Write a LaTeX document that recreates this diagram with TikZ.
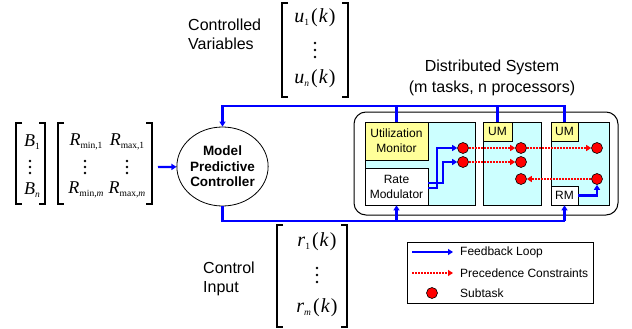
\documentclass[tikz,border=0pt]{standalone}
\usepackage{fontspec}
\setmainfont{Liberation Sans}
\newfontfamily\mfont{Liberation Serif}
\usetikzlibrary{arrows.meta, shapes.geometric}

\definecolor{proccyan}{RGB}{204,255,255}
\definecolor{monyellow}{RGB}{255,255,153}

% brackets of a matrix: left x, top y, right x, bottom y
\newcommand{\mbrack}[4]{%
  \draw[brk] (#1+6,#2) -- (#1,#2) -- (#1,#4) -- (#1+6,#4);
  \draw[brk] (#3-6,#2) -- (#3,#2) -- (#3,#4) -- (#3-6,#4);}
% lowered small index
\newcommand{\sbs}[1]{\raisebox{-3pt}{\fontsize{9.5}{10}\selectfont #1}}

\tikzset{
  lbl/.style={font=\fontsize{16}{19}\selectfont, inner sep=0pt},
  small/.style={font=\fontsize{12}{15}\selectfont, inner sep=0pt},
  mth/.style={font=\mfont\fontsize{18}{20}\selectfont, inner sep=0pt},
  bigmth/.style={font=\mfont\fontsize{20}{22}\selectfont, inner sep=0pt},
  brk/.style={draw=black, line width=1.3pt},
  fb/.style={draw=blue, line width=2.2pt},
  fbarrow/.style={fb, -{Triangle[length=5pt,width=6pt]}},
  prec/.style={draw=red, line width=1.8pt, dash pattern=on 2pt off 1pt,
    -{Triangle[length=5pt,width=6pt]}},
  subtask/.style={circle, draw=black, fill=red, minimum size=11pt,
    inner sep=0pt, line width=0.6pt},
  proc/.style={draw=black, fill=proccyan, minimum height=83pt,
    line width=0.7pt, inner sep=0pt},
  monbox/.style={draw=black, fill=monyellow, line width=0.7pt,
    inner sep=0pt, font=\fontsize{12}{15}\selectfont, align=center},
  modbox/.style={draw=black, fill=white, line width=0.7pt,
    inner sep=0pt, font=\fontsize{12}{15}\selectfont, align=center}
}

\begin{document}
\begin{tikzpicture}[x=1pt, y=-1pt]
  \useasboundingbox (0,0) rectangle (632,329);

  % titles
  \node[lbl, anchor=west, align=left] (ctrlvar) at (188,34) {Controlled\\Variables};
  \node[lbl, anchor=west, align=left] (ctrlin) at (203,279) {Control\\Input};
  \node[lbl, align=center, font=\fontsize{16}{21}\selectfont] (dist) at (492,78)
    {Distributed System\\(m tasks, n processors)};

  % controlled variables
  \mbrack{282}{3}{348}{97}
  \node[bigmth] (out1) at (315,18) {\textit{u}\sbs{1}\kern2pt(\kern1pt\textit{k}\kern1pt)};
  \node[bigmth] (outn) at (315,79) {\textit{u}\sbs{\textit{n}}\kern2pt(\kern1pt\textit{k}\kern1pt)};

  % control input
  \mbrack{277}{225}{347}{327}
  \node[bigmth] (in1) at (317,242) {\textit{r}\sbs{1}\kern2pt(\kern1pt\textit{k}\kern1pt)};
  \node[bigmth] (inm) at (317,308) {\textit{r}\sbs{\textit{m}}\kern2pt(\kern1pt\textit{k}\kern1pt)};

  % set points and rate bounds
  \mbrack{16}{123}{45}{204}
  \node[mth] (b1) at (32,142) {\textit{B}\sbs{1}};
  \node[mth] (bn) at (32,190) {\textit{B}\sbs{\textit{n}}};
  \mbrack{58}{123}{152}{204}
  \node[mth] (rmin1) at (86,142) {\textit{R}\sbs{min,1}};
  \node[mth] (rmax1) at (127,142) {\textit{R}\sbs{max,1}};
  \node[mth] (rminm) at (86,190) {\textit{R}\sbs{min,\textit{m}}};
  \node[mth] (rmaxm) at (127,190) {\textit{R}\sbs{max,\textit{m}}};

  % vertical dots
  \foreach \x/\y in {315/50, 317/275}
    \foreach \d in {-7,0,7}
      \fill (\x,\y+\d) circle[radius=1.4pt];
  \foreach \x/\y in {30/167, 85/167, 127/167}
    \foreach \d in {-6,0,6}
      \fill (\x,\y+\d) circle[radius=1.3pt];

  % controller
  \node[ellipse, draw=black, line width=0.8pt, minimum width=89pt,
    minimum height=79pt, inner sep=0pt, align=center,
    font=\bfseries\fontsize{13.5}{15.5}\selectfont] (mpc) at (222.5,166.5)
    {Model\\Predictive\\Controller};

  % distributed system
  \node[draw=black, line width=1pt, rounded corners=12pt, minimum width=264pt,
    minimum height=103pt] (sys) at (486,163.5) {};
  \node[proc, minimum width=110pt] (p1) at (420,163.5) {};
  \node[proc, minimum width=58pt] (p2) at (512,163.5) {};
  \node[proc, minimum width=58pt] (p3) at (580,163.5) {};
  \node[monbox, minimum width=63pt, minimum height=38pt] (mon1) at (396.5,141)
    {Utilization\\Monitor};
  \node[modbox, minimum width=63pt, minimum height=37pt] (mod1) at (396.5,186.5)
    {Rate\\Modulator};
  \node[monbox, minimum width=29pt, minimum height=19pt] (mon2) at (497.5,131.5) {UM};
  \node[monbox, minimum width=27pt, minimum height=19pt] (mon3) at (564.5,131.5) {UM};
  \node[modbox, minimum width=27pt, minimum height=19pt] (mod3) at (564.5,195.5) {RM};

  % subtasks
  \node[subtask] (s11) at (463,148) {};
  \node[subtask] (s12) at (463,162) {};
  \node[subtask] (s21) at (521,148) {};
  \node[subtask] (s22) at (521,162) {};
  \node[subtask] (s23) at (521,179) {};
  \node[subtask] (s31) at (597,148) {};
  \node[subtask] (s33) at (597,179) {};

  % precedence constraints
  \draw[prec] (s11) -- (s21);
  \draw[prec] (s21) -- (s31);
  \draw[prec] (s12) -- (s22);
  \draw[prec] (s33) -- (s23);

  % rate modulators to subtasks
  \coordinate (j1) at (437,0);
  \coordinate (j2) at (443,0);
  \draw[fbarrow] (mod1.east |- 0,188) -| (j1 |- s11) -- (s11);
  \draw[fbarrow] (mod1.east |- 0,183) -| (j2 |- s12) -- (s12);
  \draw[fbarrow] (mod3.east) -| (s33);

  % feedback loop
  \coordinate (top) at (0,106);
  \coordinate (bot) at (0,221);
  \coordinate (rin) at (158,167);
  \draw[fbarrow] (rin) -- (mpc);
  \draw[fbarrow] (mon3.north) -- (mon3.north |- top) -| (mpc.north);
  \draw[fb] (mon1.north) -- (mon1.north |- top);
  \draw[fb] (mon2.north) -- (mon2.north |- top);
  \draw[fb] (mpc.south) |- (mod3.south |- bot);
  \draw[fbarrow] (mod3.south |- bot) -- (mod3.south);
  \draw[fbarrow] (mod1.south |- bot) -- (mod1.south);

  % legend
  \node[draw=black, line width=0.8pt, minimum width=186pt, minimum height=61pt]
    (legend) at (500,272.5) {};
  \coordinate (lfba) at (412,252);
  \coordinate (lfbb) at (453,252);
  \coordinate (lpra) at (412,273);
  \coordinate (lprb) at (453,273);
  \draw[fbarrow] (lfba) -- (lfbb);
  \draw[prec] (lpra) -- (lprb);
  \node[subtask] (lsub) at (432,293) {};
  \node[small, anchor=west] (lfbtxt) at (460,252) {Feedback Loop};
  \node[small, anchor=west] (lprtxt) at (460,273) {Precedence Constraints};
  \node[small, anchor=west] (lsubtxt) at (460,293) {Subtask};
\end{tikzpicture}
\end{document}
